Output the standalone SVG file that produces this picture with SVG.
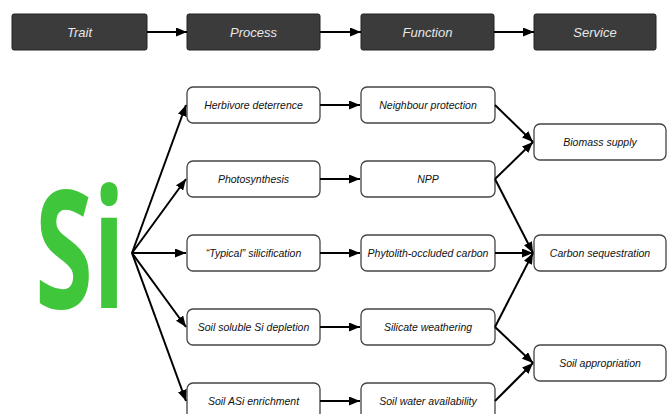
<svg xmlns="http://www.w3.org/2000/svg" width="668" height="414" viewBox="0 0 668 414">
<defs>
<marker id="ah" markerUnits="userSpaceOnUse" markerWidth="11" markerHeight="9" refX="11" refY="4.5" orient="auto"><path d="M0,0 L11,4.5 L0,9 z" fill="#000"/></marker>
<style>
.hd rect{fill:#3b3b3b;stroke:#222;stroke-width:1}
.hd text{fill:#e8e8e8;font-family:"Liberation Sans",Arial,sans-serif;font-style:italic;font-size:13px;text-anchor:middle}
.nd rect{fill:#fff;stroke:#444;stroke-width:1.3}
.nd text{fill:#111;font-family:"Liberation Sans",Arial,sans-serif;font-style:italic;font-size:10.5px;text-anchor:middle}
.cn line{stroke:#000;stroke-width:2;marker-end:url(#ah)}
</style>
</defs>
<rect width="668" height="414" fill="#fff"/>
<g id="trait" class="hd"><rect x="12" y="14" width="135" height="36" rx="2"/><text x="79.5" y="36.5">Trait</text></g>
<g id="process" class="hd"><rect x="187" y="14" width="133" height="36" rx="2"/><text x="253.5" y="36.5">Process</text></g>
<g id="function" class="hd"><rect x="361" y="14" width="133" height="36" rx="2"/><text x="427.5" y="36.5">Function</text></g>
<g id="service" class="hd"><rect x="534" y="14" width="122" height="36" rx="2"/><text x="595" y="36.5">Service</text></g>

<g id="si"><text x="35" y="308" font-family="'Open Sans',sans-serif" font-weight="bold" font-size="166" fill="#3fc63b" textLength="90" lengthAdjust="spacingAndGlyphs">Si</text></g>

<g id="herbivore" class="nd"><rect x="187" y="87" width="133" height="36" rx="6"/><text x="253.5" y="108.5">Herbivore deterrence</text></g>
<g id="photosynthesis" class="nd"><rect x="187" y="161" width="133" height="36" rx="6"/><text x="253.5" y="182.5">Photosynthesis</text></g>
<g id="typical" class="nd"><rect x="187" y="235" width="133" height="36" rx="6"/><text x="253.5" y="256.5">“Typical” silicification</text></g>
<g id="soluble" class="nd"><rect x="187" y="309" width="133" height="36" rx="6"/><text x="253.5" y="330.5">Soil soluble Si depletion</text></g>
<g id="asi" class="nd"><rect x="187" y="383" width="133" height="36" rx="6"/><text x="253.5" y="404.5">Soil ASi enrichment</text></g>

<g id="neighbour" class="nd"><rect x="361" y="87" width="134" height="36" rx="6"/><text x="428" y="108.5">Neighbour protection</text></g>
<g id="npp" class="nd"><rect x="361" y="161" width="134" height="36" rx="6"/><text x="428" y="182.5">NPP</text></g>
<g id="phytolith" class="nd"><rect x="361" y="235" width="134" height="36" rx="6"/><text x="428" y="256.5">Phytolith-occluded carbon</text></g>
<g id="silicate" class="nd"><rect x="361" y="309" width="134" height="36" rx="6"/><text x="428" y="330.5">Silicate weathering</text></g>
<g id="water" class="nd"><rect x="361" y="383" width="134" height="36" rx="6"/><text x="428" y="404.5">Soil water availability</text></g>

<g id="biomass" class="nd"><rect x="534" y="124" width="132" height="36" rx="6"/><text x="600" y="145.5">Biomass supply</text></g>
<g id="carbon" class="nd"><rect x="534" y="235" width="132" height="36" rx="6"/><text x="600" y="256.5">Carbon sequestration</text></g>
<g id="soilapp" class="nd"><rect x="534" y="345" width="132" height="36" rx="6"/><text x="600" y="366.5">Soil appropriation</text></g>

<g id="connectors" class="cn">
<line x1="147" y1="32" x2="187" y2="32"/>
<line x1="320" y1="32" x2="361" y2="32"/>
<line x1="494" y1="32" x2="534" y2="32"/>
<line x1="132" y1="253" x2="186" y2="105"/>
<line x1="132" y1="253" x2="186" y2="179"/>
<line x1="132" y1="253" x2="186" y2="253"/>
<line x1="132" y1="253" x2="186" y2="327"/>
<line x1="132" y1="253" x2="186" y2="401"/>
<line x1="320" y1="105" x2="360" y2="105"/>
<line x1="320" y1="179" x2="360" y2="179"/>
<line x1="320" y1="253" x2="360" y2="253"/>
<line x1="320" y1="327" x2="360" y2="327"/>
<line x1="320" y1="401" x2="360" y2="401"/>
<line x1="495" y1="105" x2="533" y2="142"/>
<line x1="495" y1="179" x2="533" y2="142"/>
<line x1="495" y1="179" x2="533" y2="253"/>
<line x1="495" y1="253" x2="533" y2="253"/>
<line x1="495" y1="327" x2="533" y2="253"/>
<line x1="495" y1="327" x2="533" y2="363"/>
<line x1="495" y1="401" x2="533" y2="363"/>
</g>
</svg>
